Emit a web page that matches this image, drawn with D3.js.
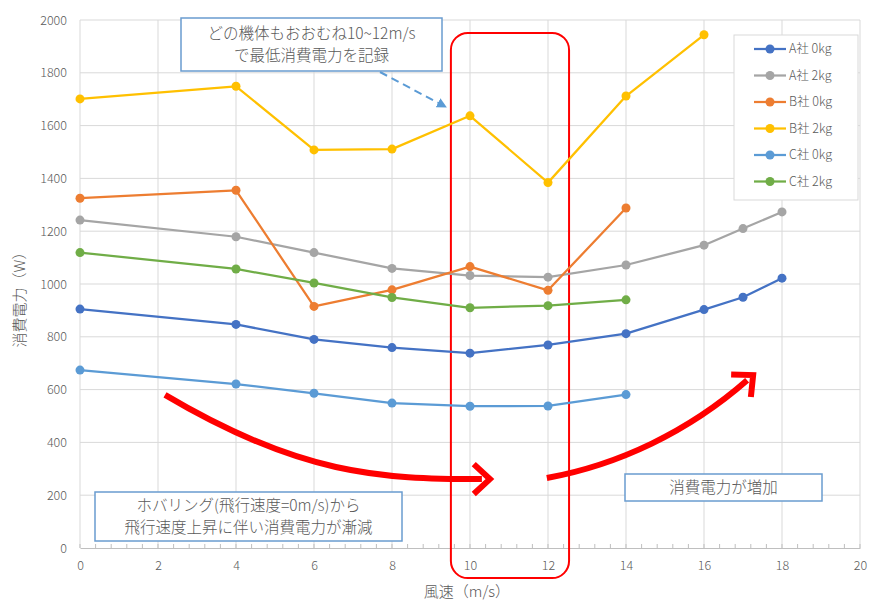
<!DOCTYPE html>
<html>
<head>
<meta charset="utf-8">
<script src="https://cdn.jsdelivr.net/npm/d3@7/dist/d3.min.js"></script>
<style>
  html, body { margin: 0; padding: 0; background: #ffffff; }
  svg { display: block; }
  text { font-family: "Noto Sans CJK JP", "Noto Sans", sans-serif; fill: #595959; font-weight: 300; }
</style>
</head>
<body>
<svg id="chart" width="869" height="601"></svg>
<script>
// Wind speed (m/s) sampled for each maker
const speedsA = [0, 4, 6, 8, 10, 12, 14, 16, 17, 18];
const speedsB0 = [0, 4, 6, 8, 10, 12, 14];
const speedsB2 = [0, 4, 6, 8, 10, 12, 14, 16];
const speedsC = [0, 4, 6, 8, 10, 12, 14];

// Power consumption (W)
const powerA0 = [905, 847, 790, 759, 738, 769, 812, 903, 950, 1022];
const powerA2 = [1242, 1179, 1119, 1059, 1032, 1026, 1072, 1147, 1210, 1273];
const powerB0 = [1325, 1355, 915, 978, 1066, 976, 1288];
const powerB2 = [1701, 1749, 1508, 1511, 1637, 1384, 1712, 1944];
const powerC0 = [674, 621, 586, 549, 537, 538, 581];
const powerC2 = [1119, 1057, 1004, 949, 910, 918, 940];

const seriesNames = ["A社 0kg", "A社 2kg", "B社 0kg", "B社 2kg", "C社 0kg", "C社 2kg"];
const seriesColors = ["#4472C4", "#A5A5A5", "#ED7D31", "#FFC000", "#5B9BD5", "#70AD47"];

const xTicks = [0, 2, 4, 6, 8, 10, 12, 14, 16, 18, 20];
const yTicks = [0, 200, 400, 600, 800, 1000, 1200, 1400, 1600, 1800, 2000];

const xTitle = "風速（m/s）";
const yTitle = "消費電力（W）";

const noteTop = ["どの機体もおおむね10~12m/s", "で最低消費電力を記録"];
const noteLeft = ["ホバリング(飛行速度=0m/s)から", "飛行速度上昇に伴い消費電力が漸減"];
const noteRight = ["消費電力が増加"];

const series = [
  { xs: speedsA, ys: powerA0 },
  { xs: speedsA, ys: powerA2 },
  { xs: speedsB0, ys: powerB0 },
  { xs: speedsB2, ys: powerB2 },
  { xs: speedsC, ys: powerC0 },
  { xs: speedsC, ys: powerC2 }
].map((s, i) => ({
  name: seriesNames[i],
  color: seriesColors[i],
  points: s.xs.map((x, j) => ({ x, y: s.ys[j] }))
}));

const svg = d3.select("#chart");
const plot = { left: 80, right: 860, top: 20, bottom: 548 };

const x = d3.scaleLinear().domain([0, 20]).range([plot.left, plot.right]);
const y = d3.scaleLinear().domain([0, 2000]).range([plot.bottom, plot.top]);

// Gridlines
const grid = svg.append("g");
grid.selectAll("line.h").data(yTicks.filter(t => t > 0)).join("line")
  .attr("x1", plot.left).attr("x2", plot.right)
  .attr("y1", d => y(d)).attr("y2", d => y(d))
  .attr("stroke", "#d9d9d9").attr("stroke-width", 1);
grid.selectAll("line.v").data(xTicks).join("line")
  .attr("y1", plot.top).attr("y2", plot.bottom)
  .attr("x1", d => x(d)).attr("x2", d => x(d))
  .attr("stroke", "#d9d9d9").attr("stroke-width", 1);

// X axis with minor ticks
const xAxis = svg.append("g").attr("transform", `translate(0,${plot.bottom})`)
  .call(d3.axisBottom(x).tickValues(xTicks).tickSize(0).tickPadding(13).tickFormat(d3.format("d")));
xAxis.select(".domain").attr("stroke", "#bfbfbf").attr("stroke-width", 1);
xAxis.selectAll("text").attr("font-size", 12.5).attr("fill", "#595959")
  .style("font-family", "'Noto Sans CJK JP', sans-serif").style("font-weight", 300);
const minor = d3.range(0, 20.001, 0.4);
svg.append("g").selectAll("line").data(minor).join("line")
  .attr("x1", d => x(d)).attr("x2", d => x(d))
  .attr("y1", plot.bottom - 4).attr("y2", plot.bottom)
  .attr("stroke", "#bfbfbf").attr("stroke-width", 1);

// Y axis
const yAxis = svg.append("g").attr("transform", `translate(${plot.left},0)`)
  .call(d3.axisLeft(y).tickValues(yTicks).tickSize(0).tickPadding(13).tickFormat(d3.format("d")));
yAxis.select(".domain").remove();
yAxis.selectAll("text").attr("font-size", 12.5).attr("fill", "#595959")
  .style("font-family", "'Noto Sans CJK JP', sans-serif").style("font-weight", 300);

// Axis titles
svg.append("text").attr("x", (plot.left + plot.right) / 2 - 3).attr("y", 597)
  .attr("text-anchor", "middle").attr("font-size", 15).text(xTitle);
svg.append("text").attr("transform", `translate(25,${(plot.top + plot.bottom) / 2 + 12}) rotate(-90)`)
  .attr("text-anchor", "middle").attr("font-size", 15).text(yTitle);

// Highlight frame around the 10–12 m/s band
svg.append("rect")
  .attr("x", x(9.51)).attr("y", y(1951))
  .attr("width", x(12.54) - x(9.51)).attr("height", y(-114) - y(1951))
  .attr("rx", 17).attr("ry", 17)
  .attr("fill", "none").attr("stroke", "#ff0000").attr("stroke-width", 2);

// Series lines and markers
const line = d3.line().x(d => x(d.x)).y(d => y(d.y));
const sg = svg.append("g").selectAll("g").data(series).join("g");
sg.append("path").attr("d", d => line(d.points))
  .attr("fill", "none").attr("stroke", d => d.color).attr("stroke-width", 2.25)
  .attr("stroke-linejoin", "round");
sg.each(function (s) {
  d3.select(this).selectAll("circle").data(s.points).join("circle")
    .attr("cx", d => x(d.x)).attr("cy", d => y(d.y)).attr("r", 4.5)
    .attr("fill", s.color);
});

// Trend arrows: cubic curves given in chart units [start, ctrl1, ctrl2, tip]
function trendArrow(pts) {
  const [p0, p1, p2, p3] = pts.map(p => [x(p[0]), y(p[1])]);
  const ang = Math.atan2(p3[1] - p2[1], p3[0] - p2[0]);
  const back = 8;
  const end = [p3[0] - back * Math.cos(ang), p3[1] - back * Math.sin(ang)];
  const path = d3.path();
  path.moveTo(p0[0], p0[1]);
  path.bezierCurveTo(p1[0], p1[1], p2[0], p2[1], end[0], end[1]);
  svg.append("path").attr("d", path.toString())
    .attr("fill", "none").attr("stroke", "#ff0000").attr("stroke-width", 6)
    .attr("stroke-linecap", "butt");
  const len = 22, spread = Math.PI / 4.2;
  const a1 = [p3[0] - len * Math.cos(ang - spread), p3[1] - len * Math.sin(ang - spread)];
  const a2 = [p3[0] - len * Math.cos(ang + spread), p3[1] - len * Math.sin(ang + spread)];
  svg.append("path")
    .attr("d", `M${a1[0]},${a1[1]}L${p3[0]},${p3[1]}L${a2[0]},${a2[1]}`)
    .attr("fill", "none").attr("stroke", "#ff0000").attr("stroke-width", 6)
    .attr("stroke-linejoin", "miter").attr("stroke-linecap", "butt");
}
trendArrow([[2.18, 580], [5.64, 277], [7.69, 261], [10.51, 261]]);
trendArrow([[11.97, 265], [13.8, 314], [15.6, 440], [17.26, 655]]);

// Dashed pointer from the top note
const defs = svg.append("defs");
defs.append("marker").attr("id", "tri").attr("viewBox", "0 0 10 10")
  .attr("refX", 9).attr("refY", 5).attr("markerWidth", 5).attr("markerHeight", 5)
  .attr("orient", "auto")
  .append("path").attr("d", "M0,0L10,5L0,10Z").attr("fill", "#5B9BD5");
svg.append("line")
  .attr("x1", 380).attr("y1", 72).attr("x2", 446).attr("y2", 107)
  .attr("stroke", "#5B9BD5").attr("stroke-width", 2)
  .attr("stroke-dasharray", "8,5").attr("marker-end", "url(#tri)");

// Note boxes
function noteBox(x0, y0, w, h, lines, size, lh) {
  svg.append("rect").attr("x", x0).attr("y", y0).attr("width", w).attr("height", h)
    .attr("fill", "#ffffff").attr("stroke", "#6a9ccf").attr("stroke-width", 1.5);
  const cy = y0 + h / 2 - (lines.length - 1) * lh / 2;
  lines.forEach((t, i) => {
    svg.append("text").attr("x", x0 + w / 2).attr("y", cy + i * lh)
      .attr("dy", "0.35em").attr("text-anchor", "middle").attr("font-size", size).text(t);
  });
}
noteBox(181, 18, 261, 53, noteTop, 15.5, 22.5);
noteBox(95, 492, 307, 49, noteLeft, 15.5, 22.5);
noteBox(625, 474, 197, 27, noteRight, 15.5, 22.5);

// Legend
const lg = svg.append("g");
lg.append("rect").attr("x", 734).attr("y", 35).attr("width", 124).attr("height", 165)
  .attr("fill", "#ffffff").attr("stroke", "#d9d9d9").attr("stroke-width", 1);
const item = lg.selectAll("g.item").data(series).join("g")
  .attr("transform", (d, i) => `translate(0,${49 + i * 26.5})`);
item.append("line").attr("x1", 754).attr("x2", 786).attr("y1", 0).attr("y2", 0)
  .attr("stroke", d => d.color).attr("stroke-width", 2.25);
item.append("circle").attr("cx", 770).attr("cy", 0).attr("r", 4.5).attr("fill", d => d.color);
item.append("text").attr("x", 789).attr("y", 0).attr("dy", "0.35em")
  .attr("font-size", 12.5).text(d => d.name);
</script>
</body>
</html>
